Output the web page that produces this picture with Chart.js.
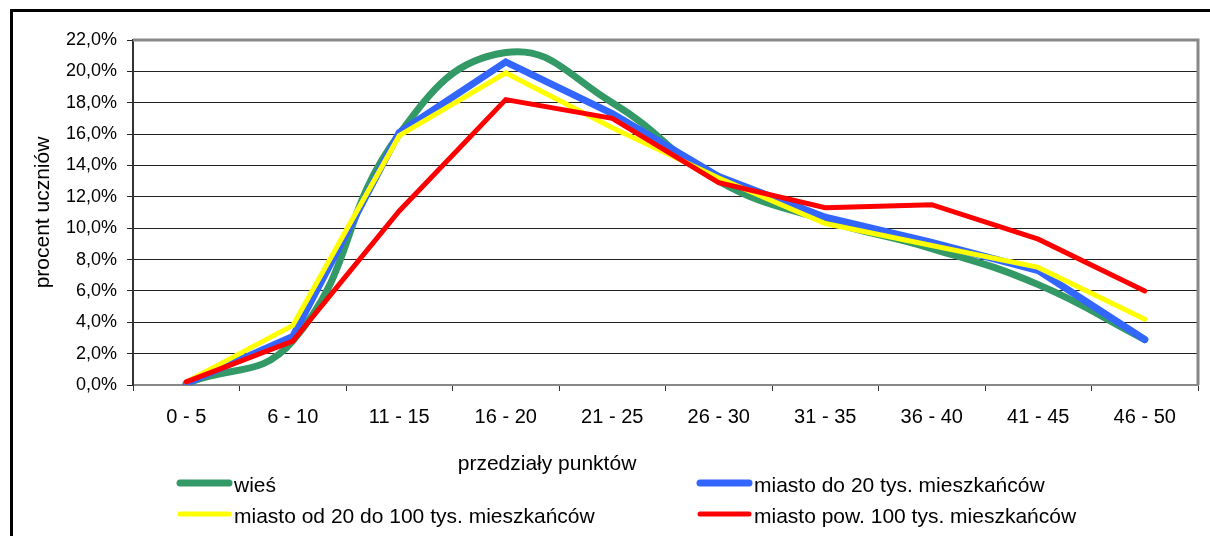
<!DOCTYPE html>
<html>
<head>
<meta charset="utf-8">
<script src="https://cdn.jsdelivr.net/npm/chart.js@4"></script>
<style>
  html, body { margin: 0; padding: 0; background: #fff; }
  #wrap { width: 1210px; height: 536px; position: relative; }
</style>
</head>
<body>
<div id="wrap"><canvas id="chart" width="1210" height="536"></canvas></div>
<script>
// dane
const przedzialy = ["0 - 5", "6 - 10", "11 - 15", "16 - 20", "21 - 25", "26 - 30", "31 - 35", "36 - 40", "41 - 45", "46 - 50"];
const wies = [0.1, 2.8, 16.0, 21.2, 18.0, 13.0, 10.5, 8.7, 6.4, 2.9];
const miastoDo20 = [0.1, 3.1, 16.1, 20.6, 17.3, 13.3, 10.7, 9.1, 7.3, 2.9];
const miasto20do100 = [0.2, 3.8, 15.9, 19.9, 16.4, 13.2, 10.3, 8.9, 7.5, 4.2];
const miastoPow100 = [0.2, 2.8, 11.1, 18.2, 17.0, 12.9, 11.3, 11.5, 9.3, 6.0];
const etykietySerii = ["wieś", "miasto do 20 tys. mieszkańców", "miasto od 20 do 100 tys. mieszkańców", "miasto pow. 100 tys. mieszkańców"];
const kolory = ["#339966", "#3366ff", "#ffff00", "#ff0000"];

const FONT = "'Liberation Sans', Arial, sans-serif";

// rysuje ramkę, tytuły osi i legendę (układ jak w Excelu)
const dodatki = {
  id: "dodatki",
  beforeDraw(chart) {
    const ctx = chart.ctx;
    ctx.save();
    ctx.fillStyle = "#fff";
    ctx.fillRect(0, 0, chart.width, chart.height);
    ctx.restore();
  },
  afterDatasetsDraw(chart) {
    const ctx = chart.ctx;
    const a = chart.chartArea;
    ctx.save();
    // górna i prawa krawędź obszaru wykresu
    ctx.strokeStyle = "#888";
    ctx.lineWidth = 3;
    ctx.beginPath();
    ctx.moveTo(a.left, a.top);
    ctx.lineTo(a.right, a.top);
    ctx.lineTo(a.right, a.bottom);
    ctx.stroke();
    ctx.restore();
  },
  afterDraw(chart) {
    const ctx = chart.ctx;
    ctx.save();
    // ramka zewnętrzna
    ctx.strokeStyle = "#000";
    ctx.lineWidth = 3;
    ctx.beginPath();
    ctx.moveTo(11.5, 540);
    ctx.lineTo(11.5, 10.5);
    ctx.lineTo(1215, 10.5);
    ctx.stroke();

    // tytuł osi Y
    ctx.fillStyle = "#000";
    ctx.font = "21px " + FONT;
    ctx.textAlign = "center";
    ctx.textBaseline = "middle";
    ctx.translate(43, (chart.chartArea.top + chart.chartArea.bottom) / 2);
    ctx.rotate(-Math.PI / 2);
    ctx.fillText("procent uczniów", 0, 0);
    ctx.setTransform(1, 0, 0, 1, 0, 0);

    // tytuł osi X
    ctx.font = "21px " + FONT;
    ctx.fillText("przedziały punktów", 547, 464);

    // legenda
    const pozycje = [[177, 483], [697, 483], [177, 514], [697, 514]];
    ctx.textAlign = "left";
    ctx.font = "21px " + FONT;
    chart.data.datasets.forEach((ds, i) => {
      const [x, y] = pozycje[i];
      ctx.strokeStyle = ds.borderColor;
      ctx.lineWidth = ds.borderWidth;
      ctx.lineCap = "round";
      ctx.beginPath();
      ctx.moveTo(x + 3, y);
      ctx.lineTo(x + 52, y);
      ctx.stroke();
      ctx.fillStyle = "#000";
      ctx.fillText(ds.label, x + 57, y + 3);
    });
    ctx.restore();
  }
};

const szerokosci = [7, 7, 5, 5];
const serie = [wies, miastoDo20, miasto20do100, miastoPow100];

new Chart(document.getElementById("chart"), {
  type: "line",
  data: {
    labels: przedzialy,
    datasets: serie.map((d, i) => ({
      label: etykietySerii[i],
      data: d,
      borderColor: kolory[i],
      backgroundColor: kolory[i],
      borderWidth: szerokosci[i],
      order: 3 - i, // czerwona na wierzchu
      pointRadius: 0,
      tension: i === 0 ? 0.45 : 0,
      borderCapStyle: "round",
      borderJoinStyle: "miter",
      fill: false
    }))
  },
  options: {
    responsive: false,
    animation: false,
    layout: { padding: { left: 0, top: 40, right: 12, bottom: 0 } },
    plugins: {
      legend: { display: false },
      tooltip: { enabled: false }
    },
    scales: {
      x: {
        offset: true,
        afterFit(s) { s.height = 151; },
        border: { color: "#888", width: 2 },
        grid: { display: true, drawOnChartArea: false, drawTicks: true, tickLength: 6, color: "#333", offset: true },
        ticks: { color: "#000", font: { family: FONT, size: 20 }, padding: 14, maxRotation: 0, autoSkip: false }
      },
      y: {
        min: 0,
        max: 22,
        afterFit(s) { s.width = 133; },
        border: { color: "#333", width: 2 },
        grid: { color: "#222", lineWidth: 1, tickLength: 6 },
        ticks: {
          stepSize: 2,
          color: "#000",
          font: { family: FONT, size: 18 },
          padding: 10,
          callback: v => v.toFixed(1).replace(".", ",") + "%"
        }
      }
    }
  },
  plugins: [dodatki]
});
</script>
</body>
</html>
